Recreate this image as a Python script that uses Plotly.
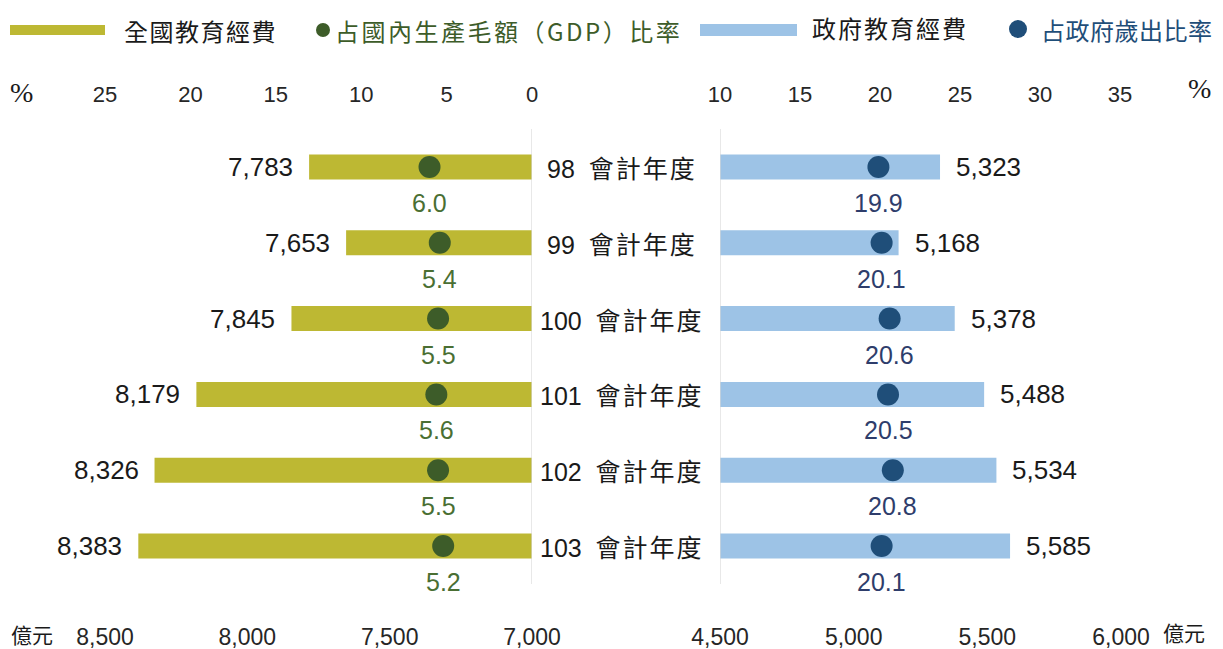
import plotly.graph_objects as go

# page body has an 8px margin: figure coordinates are shifted by OFF
OFF = 8
W, H = 1215, 641

years = ["98", "99", "100", "101", "102", "103"]
year_labels = ["98 會計年度", "99 會計年度", "100 會計年度", "101 會計年度", "102 會計年度", "103 會計年度"]
national_spend = [7783, 7653, 7845, 8179, 8326, 8383]
gdp_ratio = [6.0, 5.4, 5.5, 5.6, 5.5, 5.2]
gov_spend = [5323, 5168, 5378, 5488, 5534, 5585]
gov_ratio = [19.9, 20.1, 20.6, 20.5, 20.8, 20.1]

left_money_ticks = [8500, 8000, 7500, 7000]
left_pct_ticks = [25, 20, 15, 10, 5, 0]
right_money_ticks = [4500, 5000, 5500, 6000]
right_pct_ticks = [10, 15, 20, 25, 30, 35]

OLIVE = "#BDB833"
DGREEN = "#3D5C29"
LBLUE = "#9DC3E6"
DBLUE = "#1F4E79"
GREEN_TXT = "#4A6F33"
BLUE_TXT = "#2E3D6B"
TXT = "#1A1A1A"
NUM_FONT = "Liberation Sans, Arial, sans-serif"
CJK_FONT = "Noto Sans CJK TC, sans-serif"

def px(x):
    return (x - OFF) / W

def py(y):
    return 1 - (y - OFF) / H

def spaced(s, sp):
    return f"<span style='letter-spacing:{sp}px'>{s}</span>"

LEFT_DOM = [px(105), px(532)]
RIGHT_DOM = [px(720), px(1121)]
Y_DOM = [py(584), py(129)]

ypos = list(range(len(years)))

fig = go.Figure()

fig.add_trace(go.Bar(
    y=ypos, x=[v - 7000 for v in national_spend], base=7000,
    orientation="h", marker=dict(color=OLIVE, line=dict(width=0)),
    width=0.33, xaxis="x", yaxis="y", showlegend=False, hoverinfo="skip",
))
fig.add_trace(go.Scatter(
    y=ypos, x=gdp_ratio, mode="markers",
    marker=dict(color=DGREEN, size=22), xaxis="x2", yaxis="y",
    showlegend=False, hoverinfo="skip",
))
fig.add_trace(go.Bar(
    y=ypos, x=[v - 4500 for v in gov_spend], base=4500,
    orientation="h", marker=dict(color=LBLUE, line=dict(width=0)),
    width=0.33, xaxis="x3", yaxis="y", showlegend=False, hoverinfo="skip",
))
fig.add_trace(go.Scatter(
    y=ypos, x=gov_ratio, mode="markers",
    marker=dict(color=DBLUE, size=22), xaxis="x4", yaxis="y",
    showlegend=False, hoverinfo="skip",
))

ann = []
for i in ypos:
    ann.append(dict(x=national_spend[i], y=i, xref="x", yref="y", text=f"{national_spend[i]:,}",
                    xanchor="right", yanchor="middle", xshift=-14, showarrow=False,
                    font=dict(family=NUM_FONT, size=26, color=TXT)))
    ann.append(dict(x=gdp_ratio[i], y=i, xref="x2", yref="y", text=f"{gdp_ratio[i]:.1f}",
                    xanchor="center", yanchor="middle", yshift=-36, showarrow=False,
                    font=dict(family=NUM_FONT, size=25, color=GREEN_TXT)))
    ann.append(dict(x=gov_spend[i], y=i, xref="x3", yref="y", text=f"{gov_spend[i]:,}",
                    xanchor="left", yanchor="middle", xshift=14, showarrow=False,
                    font=dict(family=NUM_FONT, size=26, color=TXT)))
    ann.append(dict(x=gov_ratio[i], y=i, xref="x4", yref="y", text=f"{gov_ratio[i]:.1f}",
                    xanchor="center", yanchor="middle", yshift=-36, showarrow=False,
                    font=dict(family=NUM_FONT, size=25, color=BLUE_TXT)))
    num, rest = year_labels[i].split(" ", 1)
    ann.append(dict(x=px(622), y=i, xref="paper", yref="y",
                    text=f"<span style='font-family:Liberation Sans'>{num}&nbsp; </span>" + spaced(rest, 2),
                    xanchor="center", yanchor="middle", showarrow=False,
                    font=dict(family=CJK_FONT, size=25, color=TXT)))

ann += [
    dict(x=px(21), y=py(93), xref="paper", yref="paper", text="%", showarrow=False,
         xanchor="center", yanchor="middle",
         font=dict(family="Liberation Serif", size=28, color=TXT)),
    dict(x=px(1199), y=py(89), xref="paper", yref="paper", text="%", showarrow=False,
         xanchor="center", yanchor="middle",
         font=dict(family="Liberation Serif", size=28, color=TXT)),
    dict(x=px(32), y=py(634), xref="paper", yref="paper", text="億元", showarrow=False,
         xanchor="center", yanchor="middle",
         font=dict(family=CJK_FONT, size=21, color=TXT)),
    dict(x=px(1184), y=py(632), xref="paper", yref="paper", text="億元", showarrow=False,
         xanchor="center", yanchor="middle",
         font=dict(family=CJK_FONT, size=21, color=TXT)),
]

shapes = [
    dict(type="rect", xref="paper", yref="paper", x0=px(10), x1=px(105), y0=py(35), y1=py(25),
         fillcolor=OLIVE, line=dict(width=0)),
    dict(type="circle", xref="paper", yref="paper", x0=px(316), x1=px(330), y0=py(37), y1=py(23),
         fillcolor=DGREEN, line=dict(width=0)),
    dict(type="rect", xref="paper", yref="paper", x0=px(700), x1=px(797), y0=py(36), y1=py(24),
         fillcolor=LBLUE, line=dict(width=0)),
    dict(type="circle", xref="paper", yref="paper", x0=px(1009), x1=px(1027), y0=py(38), y1=py(20),
         fillcolor=DBLUE, line=dict(width=0)),
    dict(type="line", xref="x", yref="y domain", x0=7000, x1=7000, y0=0, y1=1,
         line=dict(color="#D9D9D9", width=1.2)),
    dict(type="line", xref="x3", yref="y domain", x0=4500, x1=4500, y0=0, y1=1,
         line=dict(color="#D9D9D9", width=1.2)),
]
ann += [
    dict(x=px(122), y=py(30), xref="paper", yref="paper", text=spaced("全國教育經費", 1.5),
         xanchor="left", yanchor="middle",
         showarrow=False, font=dict(family=CJK_FONT, size=24, color=TXT)),
    dict(x=px(333), y=py(30), xref="paper", yref="paper", text=spaced("占國內生產毛額（GDP）比率", 2.5),
         xanchor="left", yanchor="middle",
         showarrow=False, font=dict(family=CJK_FONT, size=24, color=DGREEN)),
    dict(x=px(810), y=py(28), xref="paper", yref="paper", text=spaced("政府教育經費", 2),
         xanchor="left", yanchor="middle",
         showarrow=False, font=dict(family=CJK_FONT, size=24, color=TXT)),
    dict(x=px(1039), y=py(29), xref="paper", yref="paper", text=spaced("占政府歲出比率", 0.5),
         xanchor="left", yanchor="middle",
         showarrow=False, font=dict(family=CJK_FONT, size=24, color=DBLUE)),
]

toptick = dict(family=NUM_FONT, size=22, color="#262626")
bottick = dict(family=NUM_FONT, size=23, color="#262626")
common = dict(showgrid=False, zeroline=False, showline=False, ticks="", fixedrange=True,
              automargin=False)

fig.update_layout(
    width=W, height=H,
    margin=dict(l=0, r=0, t=0, b=0, pad=0, autoexpand=False),
    paper_bgcolor="white", plot_bgcolor="white",
    barmode="overlay",
    xaxis=dict(domain=LEFT_DOM, range=[8500, 7000], tickvals=left_money_ticks, tickfont=bottick,
               ticktext=[f"{v:,}" for v in left_money_ticks], anchor="free", position=py(621), **common),
    xaxis2=dict(domain=LEFT_DOM, range=[25, 0], tickvals=left_pct_ticks, side="top", tickfont=toptick,
                overlaying="x", anchor="free", position=py(106), **common),
    xaxis3=dict(domain=RIGHT_DOM, range=[4500, 6000], tickvals=right_money_ticks, tickfont=bottick,
                ticktext=[f"{v:,}" for v in right_money_ticks], anchor="free", position=py(621), **common),
    xaxis4=dict(domain=RIGHT_DOM, range=[10, 35.06], tickvals=right_pct_ticks, side="top", tickfont=toptick,
                overlaying="x3", anchor="free", position=py(106), **common),
    yaxis=dict(domain=Y_DOM, range=[5.5, -0.5], showticklabels=False, showgrid=False, zeroline=False,
               showline=False, fixedrange=True, automargin=False),
    annotations=ann,
    shapes=shapes,
)

fig.write_html("out.html")
